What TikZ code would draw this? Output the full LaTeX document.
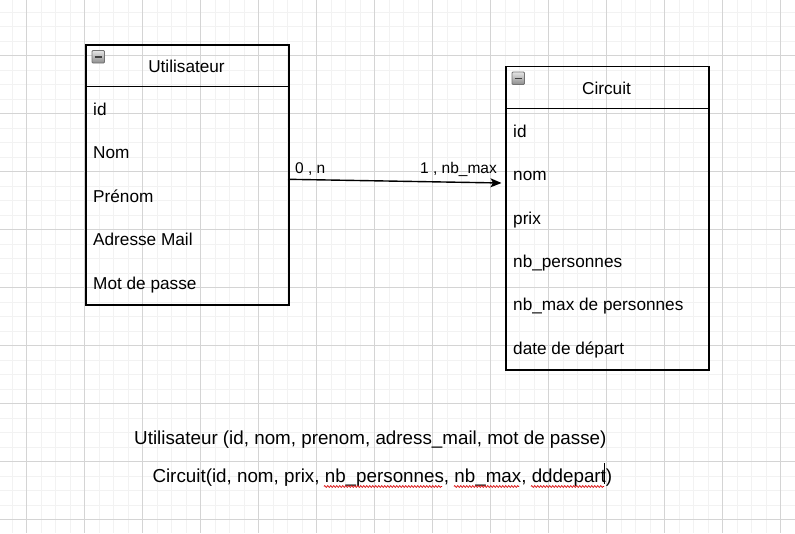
\documentclass[tikz,border=0pt]{standalone}
\usepackage{fontspec}
\setmainfont{Liberation Sans}
\usetikzlibrary{arrows.meta,decorations.pathmorphing}
\begin{document}
\begin{tikzpicture}[x=1pt,y=-1pt,
  minorgrid/.style={draw=black!5, line width=0.8pt},
  majorgrid/.style={draw=black!17, line width=0.8pt},
  entity/.style={draw=black, line width=1.5pt, rectangle, minimum width=203pt, inner sep=0pt, anchor=north west},
  sepline/.style={draw=black, line width=1.5pt},
  rowtext/.style={anchor=base west, inner sep=0pt, font=\fontsize{17.2}{20}\selectfont},
  headtext/.style={anchor=base, inner sep=0pt, font=\fontsize{17.2}{20}\selectfont},
  linklabel/.style={anchor=base, inner sep=0pt, font=\fontsize{15.5}{18}\selectfont},
  schema/.style={anchor=base west, inner sep=0pt, font=\fontsize{18.8}{22}\selectfont},
  collapse/.style={draw=black!55, line width=0.9pt, rounded corners=1pt, top color=black!10, bottom color=black!45},
  squiggle/.style={draw=red!85!black, line width=0.7pt, decorate, decoration={zigzag, amplitude=0.9pt, segment length=3pt}},
  link/.style={draw=black, line width=1.4pt, -{Stealth[length=11pt, width=9pt, inset=2.5pt]}}
]
\useasboundingbox (0,0) rectangle (795,533);
\fill[white] (0,0) rectangle (795,533);
% grid
\foreach \g in {12,26.5,...,795} {
  \draw[minorgrid] (\g,0) -- (\g,533);
}
\foreach \g in {12,26.5,...,533} {
  \draw[minorgrid] (0,\g) -- (795,\g);
}
\foreach \g in {26.5,84.5,...,795} {
  \draw[majorgrid] (\g,0) -- (\g,533);
}
\foreach \g in {55.5,113.5,...,533} {
  \draw[majorgrid] (0,\g) -- (795,\g);
}

% Utilisateur
\node[entity, minimum height=260pt] (u) at (85,44) {};
\draw[sepline] (85,86.7) -- (288,86.7);
\draw[collapse] (92,50.5) rectangle (104.5,63);
\draw[black!75, line width=1.5pt] (94.5,56.8) -- (102,56.8);
\node[headtext] (uh) at (186.5,72.3) {Utilisateur};
\node[rowtext] (u1) at (93,115.5) {id};
\node[rowtext] (u2) at (93,158.9) {Nom};
\node[rowtext] (u3) at (93,202.2) {Prénom};
\node[rowtext] (u4) at (93,245.6) {Adresse Mail};
\node[rowtext] (u5) at (93,289.0) {Mot de passe};

% Circuit
\node[entity, minimum height=303.5pt] (c) at (505,65.5) {};
\draw[sepline] (505,108.7) -- (708,108.7);
\draw[collapse] (512,72) rectangle (524.5,84.5);
\draw[black!75, line width=1.5pt] (514.5,78.3) -- (522,78.3);
\node[headtext] (ch) at (606.5,94) {Circuit};
\node[rowtext] (c1) at (513,137.5) {id};
\node[rowtext] (c2) at (513,180.8) {nom};
\node[rowtext] (c3) at (513,224.1) {prix};
\node[rowtext] (c4) at (513,267.4) {nb\_personnes};
\node[rowtext] (c5) at (513,310.7) {nb\_max de personnes};
\node[rowtext] (c6) at (513,354.0) {date de départ};

% link
\coordinate (ls) at (288,179.3);
\coordinate (le) at (501.5,183);
\draw[link] (ls) -- (le);
\node[linklabel, anchor=base west] (l1) at (295,173.3) {0 , n};
\node[linklabel, anchor=base east] (l2) at (497,173.3) {1 , nb\_max};

% relational schema
\node[schema] (s1) at (134,444) {Utilisateur (id, nom, prenom, adress\_mail, mot de passe)};
\node[schema] (s2) at (152.3,482.3) {Circuit(id, nom, prix, nb\_personnes, nb\_max, dddepart)};
\draw[squiggle] (324,486.5) -- (442,486.5);
\draw[squiggle] (454,486.5) -- (519,486.5);
\draw[squiggle] (531,486.5) -- (604,486.5);
\draw[black, line width=0.8pt] (604.5,463) -- (604.5,484);
\end{tikzpicture}
\end{document}
